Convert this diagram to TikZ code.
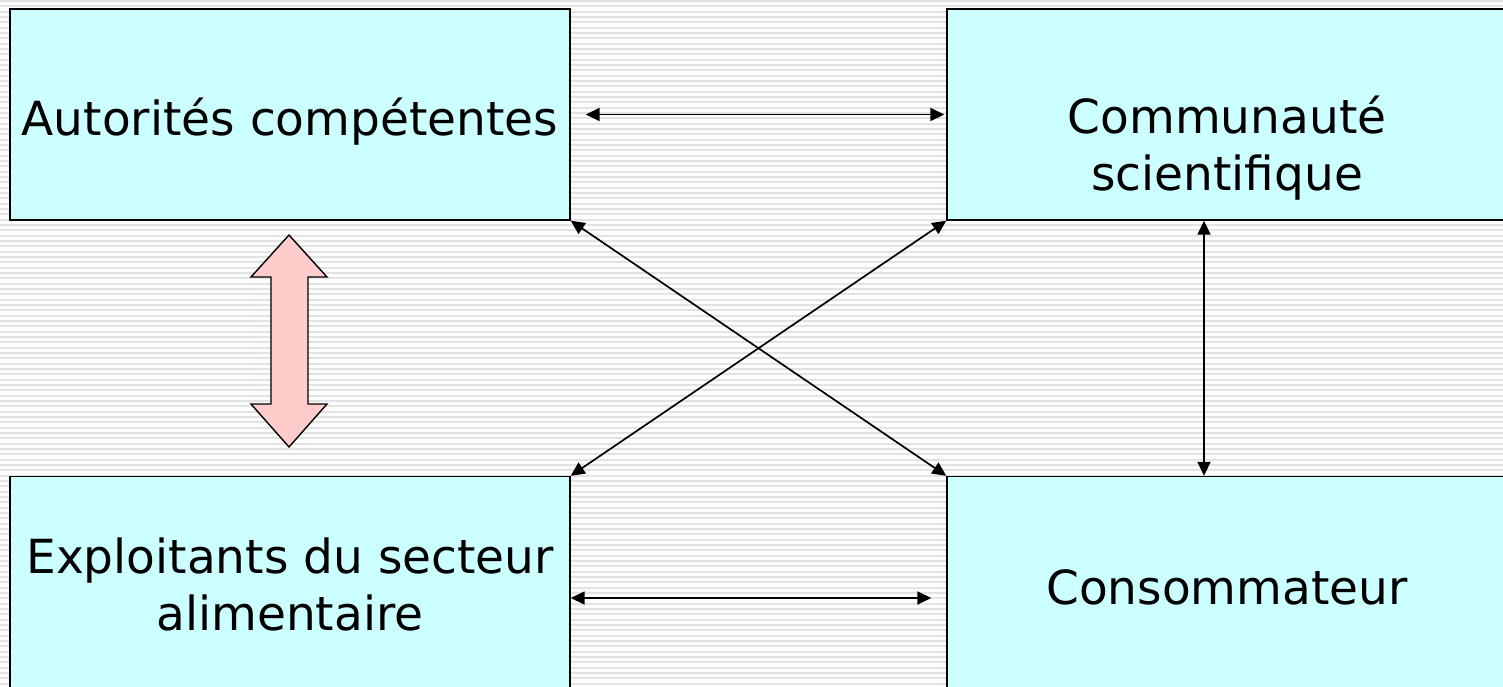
\documentclass[tikz,border=0pt]{standalone}
\usepackage{fontspec}
\setmainfont{DejaVu Sans}
\usetikzlibrary{arrows.meta}
\definecolor{boxfill}{HTML}{CCFFFF}
\definecolor{pinkfill}{HTML}{FFCCCC}
\definecolor{stripe}{HTML}{E2E2E2}
\tikzset{
  boxnode/.style={draw=black, line width=1.4pt, fill=boxfill, rectangle,
    minimum width=560pt, minimum height=211pt, inner sep=0pt},
  lbl/.style={anchor=base, align=center, inner sep=0pt,
    font=\fontsize{47}{57}\selectfont},
  conn/.style={line width=1.7pt, {Triangle[length=14pt,width=13pt]}-{Triangle[length=14pt,width=13pt]}},
  bigarrow/.style={draw=black, line width=1.4pt, fill=pinkfill, line join=miter}
}
\begin{document}
\begin{tikzpicture}[x=1pt,y=-1pt]
\useasboundingbox (0,0) rectangle (1503,686);
\clip (0,0) rectangle (1503,686);
\fill[white] (0,0) rectangle (1503,686);
\foreach \i in {0,...,130} {
  \fill[stripe] (0,{\i*5.333}) rectangle (1503,{\i*5.333+2});
}
% boxes
\node[boxnode] (auth) at (290,114.5) {};
\node[boxnode] (sci)  at (1227,114.5) {};
\node[boxnode] (expl) at (290,582) {};
\node[boxnode] (cons) at (1227,582) {};
% labels (anchor base = baseline of the last line)
\node[lbl] (authL) at (290,135) {Autorités compétentes};
\node[lbl] (sciL)  at (1227,190) {Communauté\\scientifique};
\node[lbl] (explL) at (290,630) {Exploitants du secteur\\alimentaire};
\node[lbl] (consL) at (1227,604) {Consommateur};
% connectors
\draw[conn, shorten <=15pt, shorten >=2pt] (auth.east) -- (sci.west);
\draw[conn, shorten >=15pt] ([yshift=-16pt]expl.east) -- ([yshift=-16pt]cons.west);
\draw[conn] (auth.south east) -- (cons.north west);
\draw[conn] (sci.south west) -- (expl.north east);
\draw[conn] ([xshift=-23pt]sci.south) -- ([xshift=-23pt]cons.north);
% pink double arrow
\draw[bigarrow] (289,235) -- (327,277) -- (308,277) -- (308,404) -- (327,404)
  -- (289,447) -- (251,404) -- (271,404) -- (271,277) -- (251,277) -- cycle;
\end{tikzpicture}
\end{document}
